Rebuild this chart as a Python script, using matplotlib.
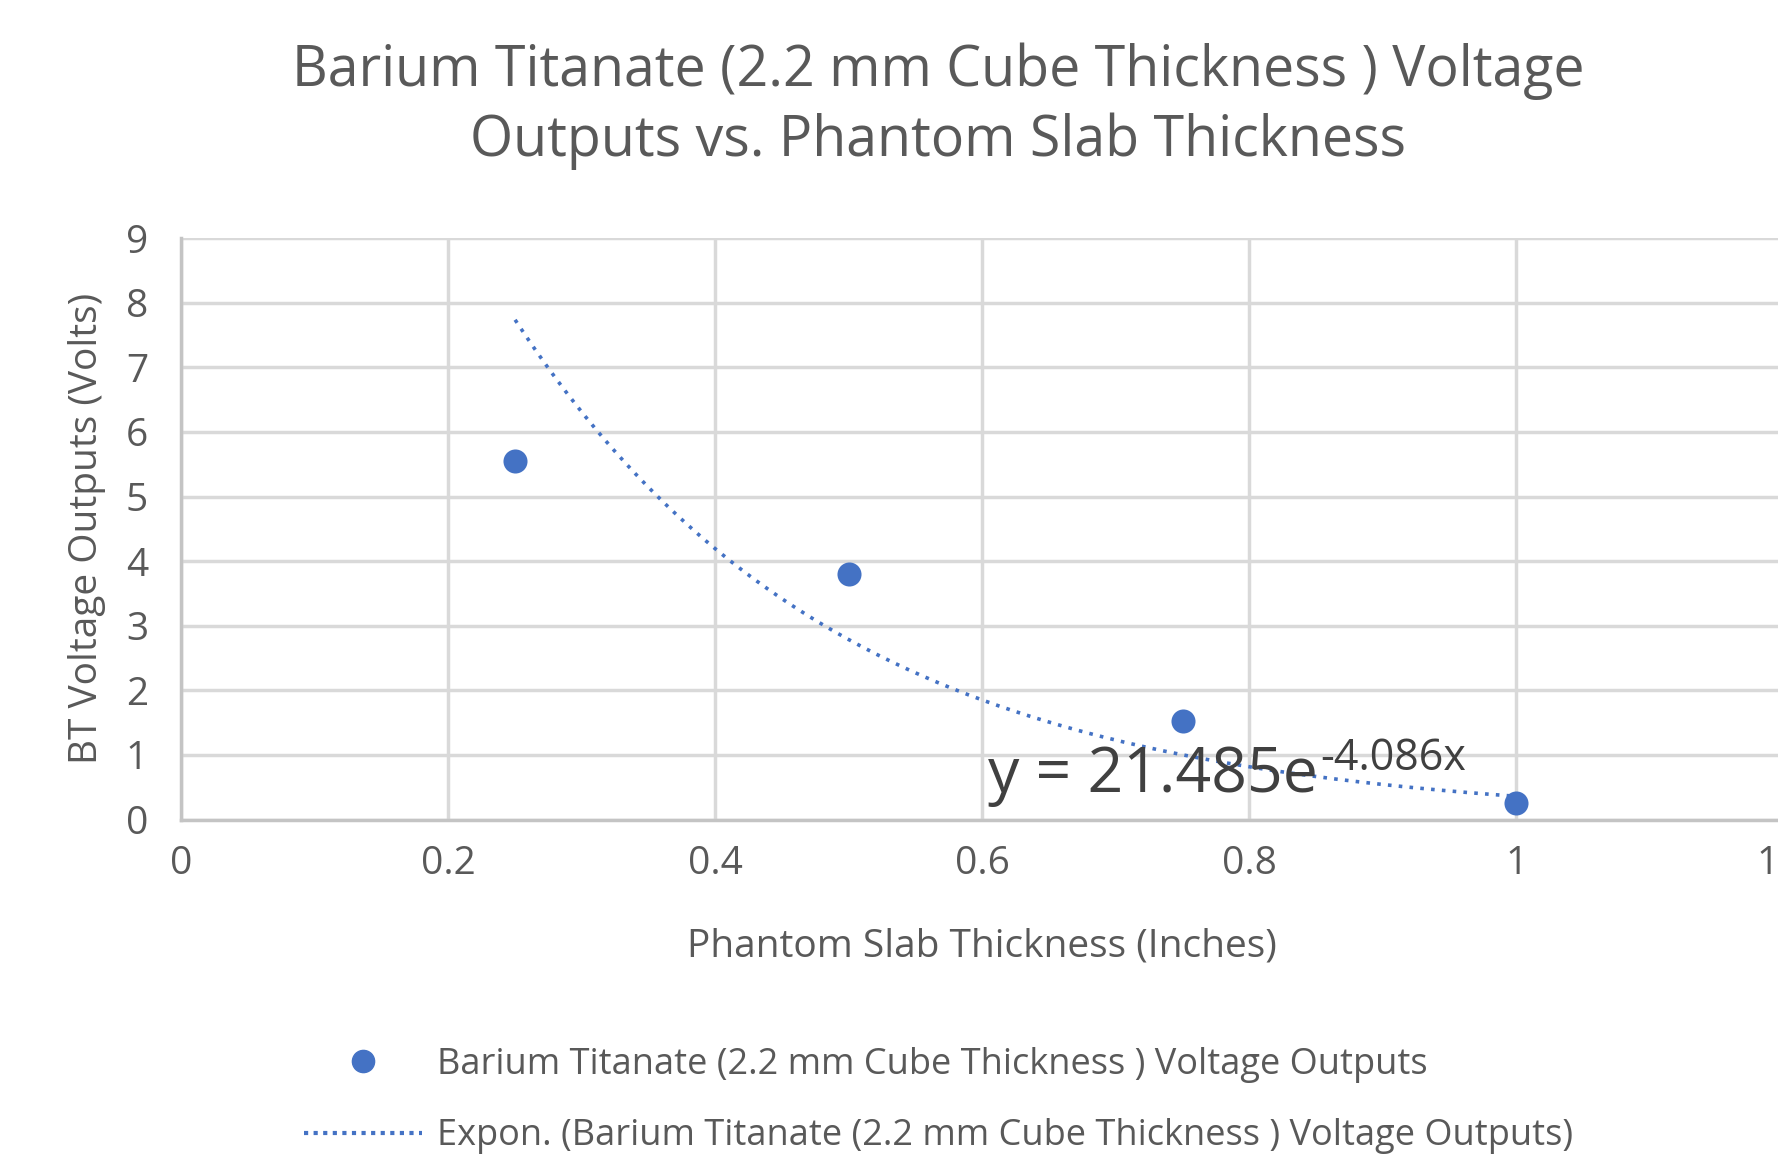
import numpy as np
import matplotlib.pyplot as plt
from matplotlib.lines import Line2D

# data
thickness = [0.25, 0.5, 0.75, 1.0]        # inches
voltage = [5.55, 3.8, 1.52, 0.25]         # volts
# Excel exponential trendline coefficients (shown on chart)
fit_a = 21.485
fit_b = -4.086

series_name = "Barium Titanate (2.2 mm Cube Thickness ) Voltage Outputs"
title = "Barium Titanate (2.2 mm Cube Thickness ) Voltage\nOutputs vs. Phantom Slab Thickness"
xticks = [0, 0.2, 0.4, 0.6, 0.8, 1, 1.2]
xticklabels = ["0", "0.2", "0.4", "0.6", "0.8", "1", "1.2"]
yticks = list(range(0, 10))

blue = "#4472C4"
grey_txt = "#595959"
grid_c = "#d9d9d9"

plt.rcParams['font.family'] = ['Open Sans', 'DejaVu Sans']

fig = plt.figure(figsize=(17.78, 11.56), dpi=100)
ax = fig.add_axes([0.102, 0.291, 0.901, 0.503])

xs = np.linspace(thickness[0], thickness[-1], 200)
ax.plot(xs, fit_a*np.exp(fit_b*xs), color=blue, lw=2.6, linestyle=(0, (1, 2.0)), zorder=3)
ax.scatter(thickness, voltage, s=300, color=blue, zorder=4, linewidths=0)

ax.set_xlim(0, 1.2)
ax.set_ylim(0, 9)
ax.set_xticks(xticks)
ax.set_xticklabels(xticklabels)
ax.set_yticks(yticks)
ax.grid(True, color=grid_c, lw=2.5)
ax.set_axisbelow(True)
for s in ['top', 'right']:
    ax.spines[s].set_visible(False)
for s in ['left', 'bottom']:
    ax.spines[s].set_color("#c4c4c4")
    ax.spines[s].set_linewidth(2.5)
ax.tick_params(length=0, labelsize=28, colors=grey_txt)
ax.tick_params(axis='x', pad=18)
ax.tick_params(axis='y', pad=24)

ax.set_xlabel("Phantom Slab Thickness (Inches)", fontsize=28, color=grey_txt, labelpad=32)
ax.set_ylabel("BT Voltage Outputs (Volts)", fontsize=28, color=grey_txt, labelpad=14)

fig.text(0.5277, 0.908, title, ha='center', va='center', fontsize=40, color=grey_txt, linespacing=1.3)

# trendline equation (base + superscript exponent)
eq = ax.text(0.604, 0.68, "y = 21.485e", fontsize=45, color="#404040",
             va='center', ha='left', zorder=5)
ax.annotate("-4.086x", xy=(1, 0.62), xycoords=eq, xytext=(2, -9), textcoords='offset points',
            fontsize=31, color="#404040", va='bottom', ha='left', zorder=5)

handles = [
    Line2D([], [], marker='o', linestyle='none', color=blue, markersize=16),
    Line2D([], [], color=blue, lw=3, linestyle=(0, (1, 1.3))),
]
labels = [series_name, "Expon. (" + series_name + ")"]
fig.legend(handles, labels, loc='center left', bbox_to_anchor=(0.171, 0.048),
           frameon=False, fontsize=26, labelcolor=grey_txt, handlelength=3.27,
           labelspacing=0.98, handletextpad=0.42, borderpad=0, borderaxespad=0)

plt.savefig("out.png")
